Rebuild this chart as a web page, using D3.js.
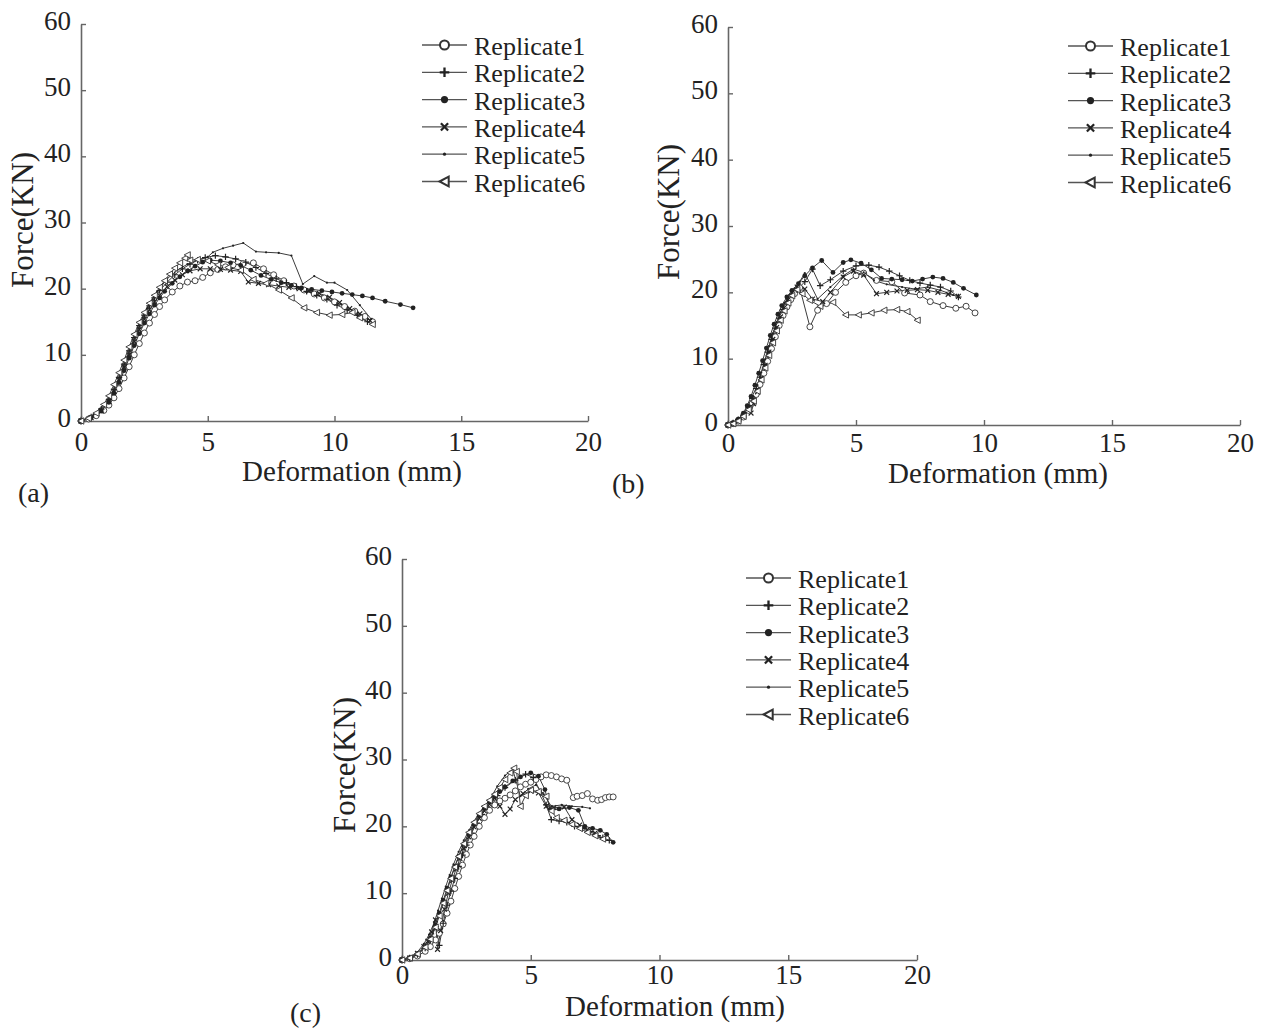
<!DOCTYPE html>
<html>
<head>
<meta charset="utf-8">
<script src="https://cdn.jsdelivr.net/npm/d3@7"></script>
<style>
  html, body { margin: 0; padding: 0; background: #ffffff; }
  svg { display: block; }
  text { font-family: "Liberation Serif", "Times New Roman", serif; fill: #222; }
</style>
</head>
<body>
<svg id="chart" width="1262" height="1029"></svg>
<script>
// ---------------- data ----------------
const xTicks = [0, 5, 10, 15, 20];
const yTicks = [0, 10, 20, 30, 40, 50, 60];
const seriesNames = ["Replicate1", "Replicate2", "Replicate3", "Replicate4", "Replicate5", "Replicate6"];
const markerTypes = ["circle", "plus", "dot", "times", "point", "triangle"];
const panelLetters = ["(a)", "(b)", "(c)"];
const xTitle = "Deformation (mm)";
const yTitle = "Force(KN)";

// Panel (a)  [deformation mm, force kN]
const a_rep1 = [[0,0],[0.3,0.3],[0.6,0.8],[0.9,1.6],[1.1,2.4],[1.3,3.5],[1.5,4.9],[1.7,6.5],[1.9,8.2],[2.1,10.0],[2.3,11.7],[2.5,13.3],[2.7,14.8],[2.9,16.1],[3.1,17.3],[3.3,18.3],[3.6,19.5],[3.9,20.4],[4.2,21.0],[4.5,21.2],[4.8,21.7],[5.1,22.4],[5.4,22.9],[5.7,23.3],[6.0,23.6],[6.4,23.8],[6.8,23.9],[7.2,23.0],[7.6,22.1],[8.0,21.2],[8.4,20.4],[8.8,19.8],[9.2,19.2],[9.6,18.6],[10.0,18.0],[10.4,17.3],[10.8,16.6],[11.2,15.8],[11.5,15.0]];
const a_rep2 = [[0,0],[0.4,0.6],[0.8,1.8],[1.1,3.2],[1.3,4.8],[1.5,6.6],[1.7,8.6],[1.9,10.6],[2.1,12.6],[2.3,14.4],[2.5,16.0],[2.7,17.4],[2.9,18.6],[3.1,19.7],[3.4,21.0],[3.7,22.1],[4.0,23.0],[4.3,23.7],[4.6,24.3],[4.9,24.7],[5.3,25.0],[5.7,24.8],[6.1,24.5],[6.5,24.0],[6.9,23.2],[7.3,22.3],[7.7,21.5],[8.1,20.9],[8.5,20.3],[8.9,19.6],[9.3,19.0],[9.7,18.4],[10.1,17.5],[10.5,16.8],[10.9,16.0],[11.3,15.0]];
const a_rep3 = [[0,0],[0.4,0.5],[0.8,1.5],[1.1,2.8],[1.3,4.2],[1.5,5.8],[1.7,7.6],[1.9,9.5],[2.1,11.4],[2.3,13.2],[2.5,14.8],[2.7,16.2],[2.9,17.5],[3.1,18.6],[3.3,19.6],[3.6,20.8],[3.9,21.8],[4.2,22.7],[4.5,23.4],[4.8,24.0],[5.1,24.3],[5.5,24.2],[5.9,23.9],[6.3,23.5],[6.7,22.8],[7.1,22.0],[7.5,21.4],[7.9,20.9],[8.3,20.5],[8.7,20.1],[9.1,19.9],[9.5,19.7],[9.9,19.5],[10.3,19.3],[10.7,19.1],[11.1,18.9],[11.5,18.6],[12.0,18.1],[12.6,17.6],[13.1,17.1]];
const a_rep4 = [[0,0],[0.4,0.5],[0.8,1.6],[1.1,3.0],[1.3,4.5],[1.5,6.2],[1.7,8.1],[1.9,10.0],[2.1,12.0],[2.3,13.8],[2.5,15.4],[2.7,16.8],[2.9,18.0],[3.1,19.0],[3.4,20.3],[3.7,21.3],[4.0,22.1],[4.3,22.7],[4.7,23.0],[5.1,23.0],[5.5,22.9],[5.9,22.8],[6.3,22.6],[6.6,21.0],[7.0,20.8],[7.4,20.6],[7.8,20.4],[8.2,20.2],[8.6,20.0],[9.0,19.7],[9.4,19.3],[9.8,18.7],[10.2,17.9],[10.6,17.0],[11.0,16.2],[11.4,15.2]];
const a_rep5 = [[0,0],[0.5,1.0],[1.0,2.8],[1.4,5.5],[1.8,9.5],[2.2,13.5],[2.6,17.0],[3.0,19.5],[3.4,21.5],[3.8,22.8],[4.2,23.7],[4.6,24.3],[5.0,24.8],[5.2,25.5],[5.6,26.1],[6.0,26.5],[6.4,26.9],[6.9,25.6],[7.3,25.5],[7.8,25.4],[8.3,25.0],[8.75,20.7],[9.2,21.9],[9.7,20.9],[10.0,20.9],[10.5,19.8],[11.0,17.5],[11.45,15.4]];
const a_rep6 = [[0,0],[0.3,0.4],[0.6,1.2],[0.9,2.5],[1.1,3.8],[1.3,5.5],[1.5,7.3],[1.7,9.2],[1.9,11.2],[2.1,13.1],[2.3,14.9],[2.5,16.4],[2.7,17.8],[2.9,19.0],[3.1,20.2],[3.3,21.2],[3.5,22.2],[3.7,23.1],[3.9,23.9],[4.1,24.6],[4.2,25.1],[4.3,24.3],[4.6,24.4],[5.0,24.2],[5.4,23.6],[5.8,23.2],[6.3,22.8],[6.8,21.4],[7.3,20.8],[7.8,19.8],[8.3,18.6],[8.8,17.1],[9.3,16.4],[9.8,16.0],[10.3,16.1],[10.7,16.4],[11.0,15.6],[11.5,14.6]];

// Panel (b)
const b_rep1 = [[0,0],[0.2,0.2],[0.4,0.6],[0.6,1.2],[0.8,2.2],[0.95,3.3],[1.1,4.6],[1.25,6.1],[1.4,7.8],[1.55,9.6],[1.7,11.5],[1.85,13.3],[2.0,15.0],[2.15,16.5],[2.3,17.8],[2.45,18.9],[2.6,19.8],[2.8,20.7],[3.2,14.8],[3.5,17.3],[3.85,18.3],[4.2,20.0],[4.6,21.5],[5.0,22.5],[5.3,22.9],[5.8,21.8],[6.4,21.6],[6.9,19.9],[7.5,19.6],[7.9,18.6],[8.4,18.0],[8.9,17.6],[9.3,17.9],[9.65,16.9]];
const b_rep2 = [[0,0],[0.2,0.3],[0.4,0.8],[0.6,1.5],[0.8,2.7],[0.95,4.0],[1.1,5.5],[1.25,7.2],[1.4,9.1],[1.55,11.0],[1.7,12.9],[1.85,14.6],[2.0,16.1],[2.15,17.4],[2.3,18.5],[2.5,19.6],[2.7,20.4],[3.0,21.6],[3.3,23.5],[3.6,21.0],[4.0,21.9],[4.5,23.2],[5.0,24.0],[5.5,24.1],[5.9,23.8],[6.3,23.2],[6.7,22.5],[7.1,21.8],[7.5,21.4],[7.9,21.1],[8.3,20.8],[8.7,20.2],[9.0,19.3]];
const b_rep3 = [[0,0],[0.2,0.3],[0.4,0.9],[0.6,1.8],[0.75,2.9],[0.9,4.3],[1.05,6.0],[1.2,7.8],[1.35,9.7],[1.5,11.6],[1.65,13.5],[1.8,15.2],[1.95,16.7],[2.1,18.0],[2.3,19.3],[2.5,20.3],[2.75,21.3],[3.0,22.5],[3.3,23.7],[3.66,24.8],[4.1,23.0],[4.5,24.5],[4.8,24.9],[5.2,24.4],[5.6,23.4],[6.0,22.1],[6.4,22.0],[6.8,21.9],[7.2,21.7],[7.6,22.0],[8.0,22.3],[8.4,22.1],[8.8,21.5],[9.2,20.6],[9.7,19.6]];
const b_rep4 = [[0,0],[0.2,0.2],[0.4,0.7],[0.6,1.4],[0.8,2.5],[0.9,1.8],[1.0,3.2],[1.15,5.0],[1.3,7.0],[1.45,9.0],[1.6,11.0],[1.75,12.9],[1.9,14.7],[2.05,16.3],[2.2,17.7],[2.35,18.9],[2.5,19.9],[2.7,20.8],[3.0,20.5],[3.3,19.0],[3.7,18.6],[4.0,20.0],[4.5,22.3],[4.9,23.2],[5.3,22.6],[5.8,19.8],[6.2,20.0],[6.6,20.2],[7.0,20.3],[7.4,20.4],[7.8,20.3],[8.2,20.0],[8.6,19.7],[9.0,19.4]];
const b_rep5 = [[0,0],[0.25,0.3],[0.5,0.9],[0.7,1.8],[0.85,2.9],[1.0,4.3],[1.15,6.0],[1.3,7.9],[1.45,9.9],[1.6,11.9],[1.75,13.8],[1.9,15.5],[2.05,17.0],[2.2,18.3],[2.4,19.6],[2.6,20.6],[2.8,21.6],[3.0,22.9],[3.5,19.0],[4.0,20.8],[4.5,22.5],[4.9,23.5],[5.3,23.0],[5.7,21.8],[6.2,21.2],[6.8,20.8],[7.3,20.5],[7.8,20.8],[8.3,20.3],[8.8,19.6]];
const b_rep6 = [[0,0],[0.2,0.2],[0.4,0.6],[0.6,1.3],[0.8,2.3],[1.0,3.6],[1.15,5.1],[1.3,6.8],[1.45,8.6],[1.6,10.5],[1.75,12.4],[1.9,14.2],[2.05,15.8],[2.2,17.2],[2.35,18.4],[2.5,19.5],[2.7,20.4],[2.9,19.8],[3.2,18.8],[3.6,17.9],[4.1,18.5],[4.6,16.6],[5.1,16.6],[5.6,16.9],[6.1,17.3],[6.6,17.4],[7.0,17.1],[7.4,15.8]];

// Panel (c)
const c_rep1 = [[0,0],[0.3,0.2],[0.6,0.6],[0.9,1.3],[1.1,2.0],[1.3,3.0],[1.45,4.0],[1.6,5.4],[1.75,7.0],[1.9,8.8],[2.05,10.7],[2.2,12.5],[2.35,14.2],[2.5,15.8],[2.65,17.2],[2.8,18.5],[3.0,20.0],[3.2,21.3],[3.4,22.4],[3.6,23.2],[3.8,23.8],[4.0,24.2],[4.2,24.7],[4.4,25.3],[4.6,25.9],[4.8,26.3],[5.0,26.6],[5.2,27.0],[5.4,27.4],[5.6,27.7],[5.8,27.6],[6.0,27.4],[6.2,27.1],[6.4,26.9],[6.65,24.3],[6.8,24.5],[7.0,24.6],[7.2,24.9],[7.4,24.1],[7.6,23.9],[7.75,24.0],[7.9,24.3],[8.05,24.4],[8.2,24.4]];
const c_rep2 = [[0,0],[0.3,0.3],[0.6,0.8],[0.9,1.8],[1.1,3.0],[1.3,5.0],[1.45,2.2],[1.6,5.5],[1.75,8.2],[1.9,10.3],[2.05,12.2],[2.2,14.0],[2.35,15.7],[2.5,17.2],[2.7,19.0],[2.9,20.5],[3.1,21.8],[3.3,22.9],[3.5,23.8],[3.7,24.6],[4.0,25.8],[4.4,26.9],[4.8,27.8],[5.1,27.3],[5.4,25.0],[5.6,23.2],[5.8,21.0],[6.1,20.8],[6.4,20.6],[6.7,20.0],[7.0,19.7],[7.3,19.2],[7.6,18.6],[7.8,18.3],[8.05,17.9]];
const c_rep3 = [[0,0],[0.3,0.3],[0.6,0.9],[0.9,2.0],[1.1,3.3],[1.3,5.2],[1.45,7.0],[1.6,8.9],[1.75,10.7],[1.9,12.4],[2.05,14.0],[2.2,15.5],[2.4,17.3],[2.6,18.9],[2.8,20.3],[3.0,21.6],[3.2,22.7],[3.4,23.6],[3.6,24.4],[3.8,25.2],[4.0,25.9],[4.3,26.8],[4.6,27.4],[5.0,28.0],[5.3,27.5],[5.55,25.5],[5.75,22.5],[6.1,22.6],[6.5,22.8],[6.85,22.4],[7.1,20.0],[7.4,19.7],[7.7,19.4],[7.95,18.8],[8.2,17.6]];
const c_rep4 = [[0,0],[0.3,0.3],[0.6,1.0],[0.85,2.0],[1.0,2.8],[1.15,4.2],[1.3,6.0],[1.38,1.6],[1.5,4.4],[1.65,7.6],[1.8,10.0],[1.95,11.9],[2.1,13.6],[2.25,15.2],[2.4,16.7],[2.6,18.4],[2.8,19.9],[3.0,21.2],[3.2,22.3],[3.4,23.3],[3.6,24.2],[3.8,23.0],[4.0,21.8],[4.2,22.6],[4.4,24.0],[4.7,24.9],[5.0,25.3],[5.3,25.0],[5.6,23.0],[5.9,22.8],[6.3,22.9],[6.6,21.0],[6.9,20.2],[7.2,19.5],[7.5,19.0]];
const c_rep5 = [[0,0],[0.3,0.4],[0.6,1.2],[0.85,2.4],[1.05,3.8],[1.25,5.6],[1.4,7.4],[1.55,9.2],[1.7,11.0],[1.85,12.7],[2.0,14.3],[2.2,16.2],[2.4,17.9],[2.6,19.4],[2.8,20.8],[3.0,22.0],[3.2,23.0],[3.4,23.9],[3.7,26.0],[4.0,27.6],[4.2,28.2],[4.3,28.5],[4.6,24.5],[4.9,25.6],[5.2,26.2],[5.5,24.8],[5.8,23.0],[6.2,23.2],[6.6,23.0],[7.0,22.9],[7.3,22.7]];
const c_rep6 = [[0,0],[0.3,0.3],[0.6,0.9],[0.9,1.9],[1.1,3.1],[1.3,4.9],[1.45,6.6],[1.6,8.5],[1.75,10.4],[1.9,12.2],[2.05,13.9],[2.2,15.5],[2.4,17.4],[2.6,19.1],[2.8,20.6],[3.0,21.9],[3.2,23.0],[3.4,23.9],[3.6,24.8],[3.8,25.8],[4.0,27.0],[4.2,28.0],[4.35,28.7],[4.45,28.2],[4.6,23.0],[4.8,24.6],[5.0,25.4],[5.3,25.2],[5.6,24.5],[5.8,22.3],[6.0,21.3],[6.3,20.9],[6.6,20.3],[6.9,19.7],[7.2,19.1],[7.5,18.6],[7.8,18.1]];

const panelA = [a_rep1, a_rep2, a_rep3, a_rep4, a_rep5, a_rep6];
const panelB = [b_rep1, b_rep2, b_rep3, b_rep4, b_rep5, b_rep6];
const panelC = [c_rep1, c_rep2, c_rep3, c_rep4, c_rep5, c_rep6];

// ---------------- layout ----------------
const layouts = [
  { series: panelA, x0: 81,  x1: 588,  y0: 421, y1: 24,  legX: 422,  legY: 45, pad: 13,
    xLab: [352, 481], yLab: [22, 220], letter: [18, 502] },
  { series: panelB, x0: 728, x1: 1240, y0: 425, y1: 27,  legX: 1068, legY: 46, pad: 10,
    xLab: [998, 483], yLab: [668, 212], letter: [612, 493] },
  { series: panelC, x0: 402, x1: 917,  y0: 960, y1: 559, legX: 746,  legY: 578, pad: 7,
    xLab: [675, 1016], yLab: [344, 765], letter: [290, 1022] }
];

const svg = d3.select("#chart");
const LINE = "#3c3c3c";
const AXIS = "#666";

function marker(g, type, big) {
  const s = big ? 1.5 : 1;
  const sw = big ? 2 : 0.9;
  switch (type) {
    case "circle":
      g.append("circle").attr("r", 3 * s).attr("fill", "#fff").attr("stroke", "#333").attr("stroke-width", sw); break;
    case "plus":
      g.append("path").attr("d", `M${-3.2*s},0H${3.2*s}M0,${-3.2*s}V${3.2*s}`).attr("stroke", "#222").attr("stroke-width", sw + 0.3); break;
    case "dot":
      g.append("circle").attr("r", 2.4 * s).attr("fill", "#222"); break;
    case "times":
      g.append("path").attr("d", `M${-2.4*s},${-2.4*s}L${2.4*s},${2.4*s}M${-2.4*s},${2.4*s}L${2.4*s},${-2.4*s}`).attr("stroke", "#222").attr("stroke-width", sw + 0.3); break;
    case "point":
      g.append("circle").attr("r", big ? 1.6 : 1.1).attr("fill", "#222"); break;
    case "triangle":
      g.append("path").attr("d", `M${-3.3*s},0L${2.8*s},${-3.2*s}L${2.8*s},${3.2*s}Z`).attr("fill", "#fff").attr("stroke", "#333").attr("stroke-width", sw); break;
  }
}

layouts.forEach((L, pi) => {
  const x = d3.scaleLinear().domain([0, 20]).range([L.x0, L.x1]);
  const y = d3.scaleLinear().domain([0, 60]).range([L.y0, L.y1]);
  const g = svg.append("g");

  // axes (ticks pointing inward)
  const xAxis = d3.axisBottom(x).tickValues(xTicks).tickSize(-5).tickPadding(L.pad).tickSizeOuter(0);
  const yAxis = d3.axisLeft(y).tickValues(yTicks).tickSize(-5).tickPadding(10).tickSizeOuter(0);
  const gx = g.append("g").attr("transform", `translate(0,${L.y0})`).call(xAxis);
  const gy = g.append("g").attr("transform", `translate(${L.x0},0)`).call(yAxis);
  [gx, gy].forEach(a => {
    a.select(".domain").attr("stroke", AXIS).attr("stroke-width", 1.6);
    a.selectAll(".tick line").attr("stroke", AXIS).attr("stroke-width", 1.4);
    a.selectAll(".tick text").attr("font-family", "Liberation Serif").attr("font-size", 27).attr("fill", "#222");
  });
  gx.selectAll(".tick text").attr("dy", "0.62em");
  gy.selectAll(".tick text").attr("dy", "0.2em");

  // axis titles
  g.append("text").attr("x", L.xLab[0]).attr("y", L.xLab[1]).attr("text-anchor", "middle")
    .attr("font-size", 29).text(xTitle);
  g.append("text").attr("transform", `translate(${L.yLab[0]},${L.yLab[1]}) rotate(-90)`)
    .attr("text-anchor", "middle").attr("dy", "0.35em").attr("font-size", 31).text(yTitle);
  g.append("text").attr("x", L.letter[0]).attr("y", L.letter[1]).attr("font-size", 28).text(panelLetters[pi]);

  // series
  const line = d3.line().x(d => x(d[0])).y(d => y(d[1]));
  L.series.forEach((data, si) => {
    g.append("path").datum(data).attr("d", line).attr("fill", "none")
      .attr("stroke", LINE).attr("stroke-width", 1).attr("stroke-linejoin", "round");
  });
  L.series.forEach((data, si) => {
    g.selectAll(null).data(data).enter().append("g")
      .attr("transform", d => `translate(${x(d[0])},${y(d[1])})`)
      .each(function () { marker(d3.select(this), markerTypes[si], false); });
  });

  // legend
  seriesNames.forEach((name, si) => {
    const cy = L.legY + si * 27.3;
    const lg = g.append("g");
    lg.append("line").attr("x1", L.legX).attr("x2", L.legX + 45).attr("y1", cy).attr("y2", cy)
      .attr("stroke", "#555").attr("stroke-width", 1.3);
    const mg = lg.append("g").attr("transform", `translate(${L.legX + 22.5},${cy})`);
    marker(mg, markerTypes[si], true);
    lg.append("text").attr("x", L.legX + 52).attr("y", cy + 10).attr("font-size", 26).text(name);
  });
});
</script>
</body>
</html>
